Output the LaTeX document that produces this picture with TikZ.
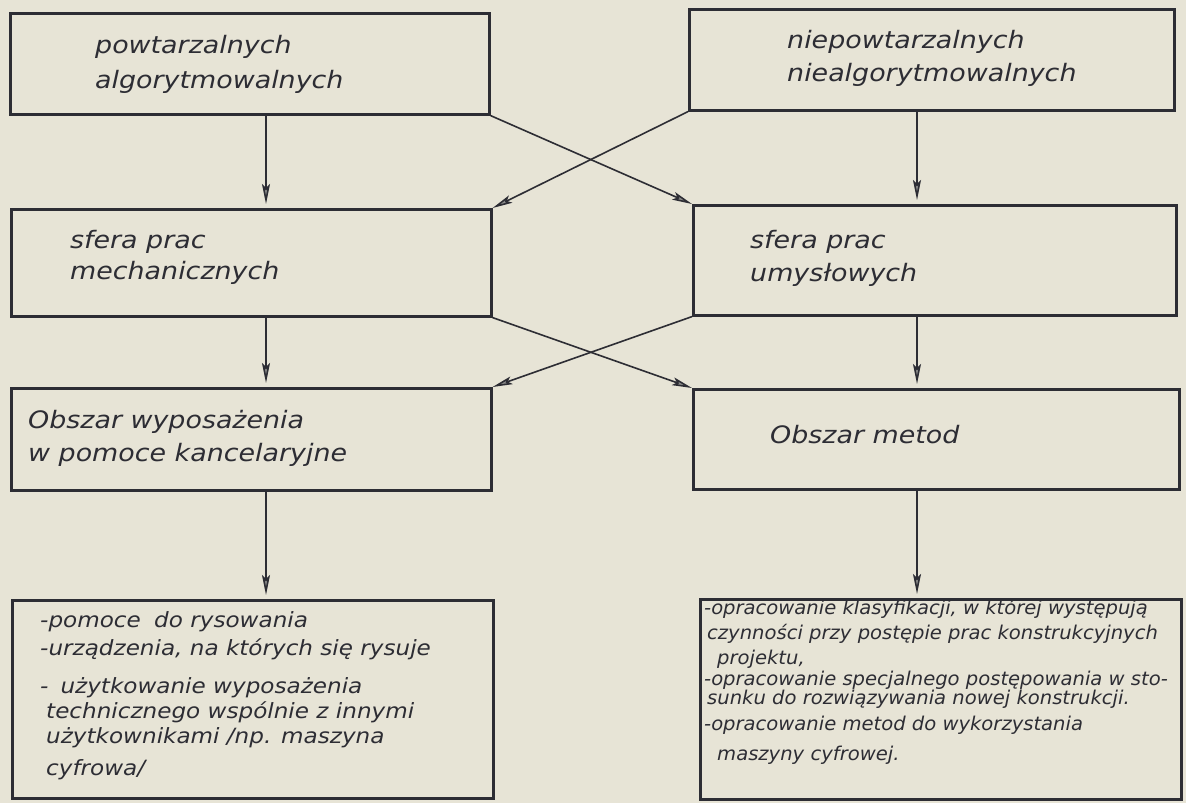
\documentclass[tikz,border=0pt]{standalone}
\usepackage{fontspec}
\setmainfont{DejaVu Sans}
\newfontfamily\bigf[FakeStretch=1.12]{DejaVu Sans}
\newfontfamily\smallf[FakeStretch=1.1]{DejaVu Sans}
\newfontfamily\tinyf[FakeStretch=1.03]{DejaVu Sans}
\usetikzlibrary{arrows.meta}
\definecolor{paper}{RGB}{231,228,214}
\definecolor{ink}{RGB}{45,45,52}
\begin{document}
\begin{tikzpicture}[x=1pt,y=-1pt,
  box/.style={draw=ink,line width=2.6pt,fill=paper,inner sep=0pt,anchor=north west},
  lbl/.style={anchor=base west,inner sep=0pt,align=left,text=ink,font=\bigf\itshape\fontsize{24}{33}\selectfont},
  small/.style={anchor=base west,inner sep=0pt,align=left,text=ink,font=\smallf\itshape\fontsize{21}{25}\selectfont},
  tiny/.style={anchor=base west,inner sep=0pt,align=left,text=ink,font=\tinyf\itshape\fontsize{19}{22}\selectfont},
  arr/.style={draw=ink,line width=1.6pt,-{Stealth[length=20pt,width=8pt,inset=4pt,fill=black!45]}}
]
\fill[paper] (0,0) rectangle (1186,803);
\useasboundingbox (0,0) rectangle (1186,803);

\coordinate (cl) at (266,0);
\coordinate (cr) at (917,0);

% boxes
\node[box,minimum width=479pt,minimum height=101pt] (b1) at (9,12) {};
\node[box,minimum width=485pt,minimum height=101pt] (b2) at (688,8) {};
\node[box,minimum width=480pt,minimum height=107pt] (b3) at (10,208) {};
\node[box,minimum width=483pt,minimum height=110pt] (b4) at (692,204) {};
\node[box,minimum width=480pt,minimum height=102pt] (b5) at (10,387) {};
\node[box,minimum width=486pt,minimum height=100pt] (b6) at (692,388) {};
\node[box,minimum width=481pt,minimum height=198pt] (b7) at (11,599) {};
\node[box,minimum width=481pt,minimum height=200pt] (b8) at (699,598) {};

% texts
\node[lbl] (t1) at (95,88) {powtarzalnych\\[2pt]algorytmowalnych};
\node[lbl] (t2) at (787,81) {niepowtarzalnych\\niealgorytmowalnych};
\node[lbl] (t3) at (70,279) {sfera prac\\[-2pt]mechanicznych};
\node[lbl] (t4) at (750,281) {sfera prac\\umysłowych};
\node[lbl] (t5) at (28,461) {Obszar wyposażenia\\w pomoce kancelaryjne};
\node[lbl] (t6) at (770,443) {Obszar metod};
\node[small] (t7) at (40,775) {-pomoce\hspace{6pt} do rysowania\\[3pt]
-urządzenia, na których się rysuje\\[13pt]
-\hspace{12pt}użytkowanie wyposażenia\\
\hspace*{6pt}technicznego wspólnie z innymi\\
\hspace*{6pt}użytkownikami /np. maszyna\\[7pt]
\hspace*{6pt}cyfrowa/};
\node[tiny] (t8) at (704,760) {-opracowanie klasyfikacji, w której występują\\[3pt]
\hspace*{3pt}czynności przy postępie prac konstrukcyjnych\\[3pt]
\hspace*{13pt}projektu,\\[-1pt]
-opracowanie specjalnego postępowania w sto-\\[-3pt]
\hspace*{3pt}sunku do rozwiązywania nowej konstrukcji.\\[4pt]
-opracowanie metod do wykorzystania\\[8pt]
\hspace*{13pt}maszyny cyfrowej.};

% vertical connectors
\draw[arr] (b1.south -| cl) -- ([yshift=4pt]b3.north -| cl);
\draw[arr] (b2.south -| cr) -- ([yshift=4pt]b4.north -| cr);
\draw[arr] (b3.south -| cl) -- ([yshift=4pt]b5.north -| cl);
\draw[arr] (b4.south -| cr) -- ([yshift=4pt]b6.north -| cr);
\draw[arr] (b5.south -| cl) -- ([yshift=4pt]b7.north -| cl);
\draw[arr] (b6.south -| cr) -- ([yshift=4pt]b8.north -| cr);

% crossing connectors
\draw[arr] (b1.south east) -- (b4.north west);
\draw[arr] (b2.south west) -- (b3.north east);
\draw[arr] (b3.south east) -- (b6.north west);
\draw[arr] (b4.south west) -- (b5.north east);
\end{tikzpicture}
\end{document}
